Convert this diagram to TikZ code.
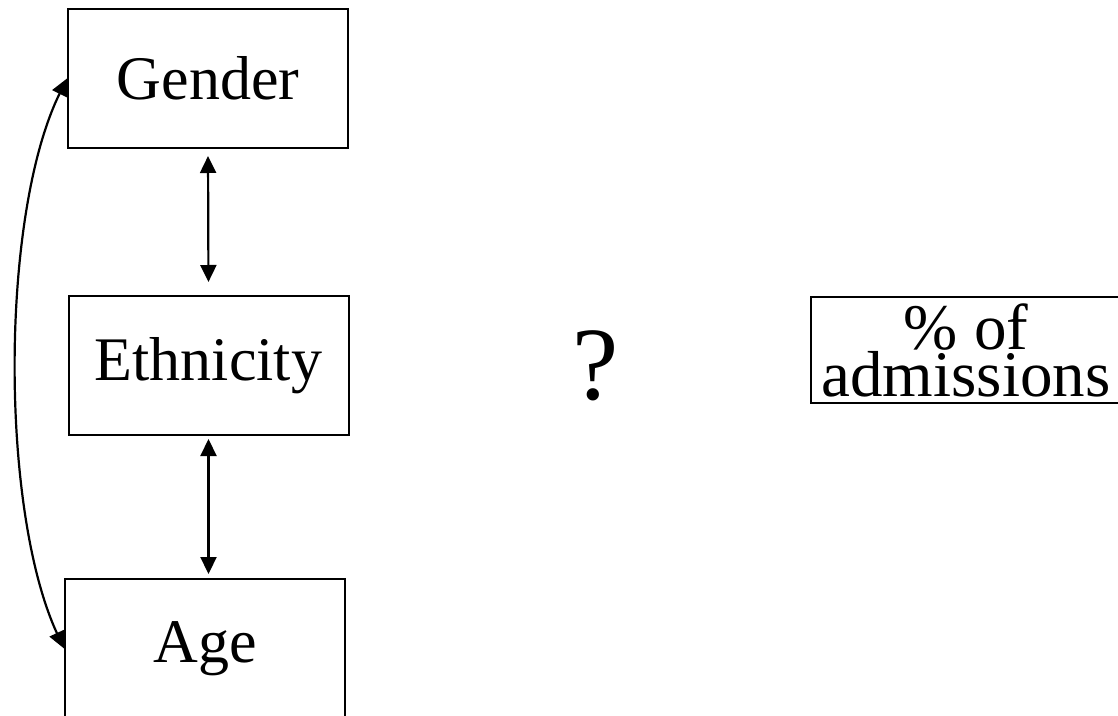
\documentclass[tikz,border=0pt]{standalone}
\usepackage{fontspec}
\setmainfont{Liberation Serif}
\usetikzlibrary{arrows.meta}
\begin{document}
\begin{tikzpicture}[x=1pt,y=-1pt,
  box/.style={draw, line width=2pt, minimum width=280pt, minimum height=139pt,
    inner sep=0pt, font=\fontsize{62}{70}\selectfont},
  link/.style={line width=2.2pt,
    {Triangle[width=16pt,length=17pt]}-{Triangle[width=16pt,length=17pt]}}]
\useasboundingbox (0,0) rectangle (1118,715);

% the three demographic variables
\node[box] (g) at (208,78.5) {Gender};
\node[box] (e) at (208.5,365.5) {Ethnicity};
\node[box] (a) at (205,648.5) {Age};

% outcome box, running off the right edge
\node[box, minimum width=310pt, minimum height=106pt, align=center,
  font=\fontsize{65}{45}\selectfont] (p) at (966,350) {\% of\\admissions};

% unknown relation
\node[font=\fontsize{104}{110}\selectfont, inner sep=0pt] (q) at (596,366) {?};

% correlations between the variables
\draw[link, shorten <=7pt, shorten >=13pt] (g.south) -- (e.north);
\draw[link, shorten <=3pt, shorten >=4pt] (e.south) -- (e.south |- a.north);
\draw[link] (g.west) .. controls (0,215) and (0,510) .. (a.west);
\end{tikzpicture}
\end{document}
